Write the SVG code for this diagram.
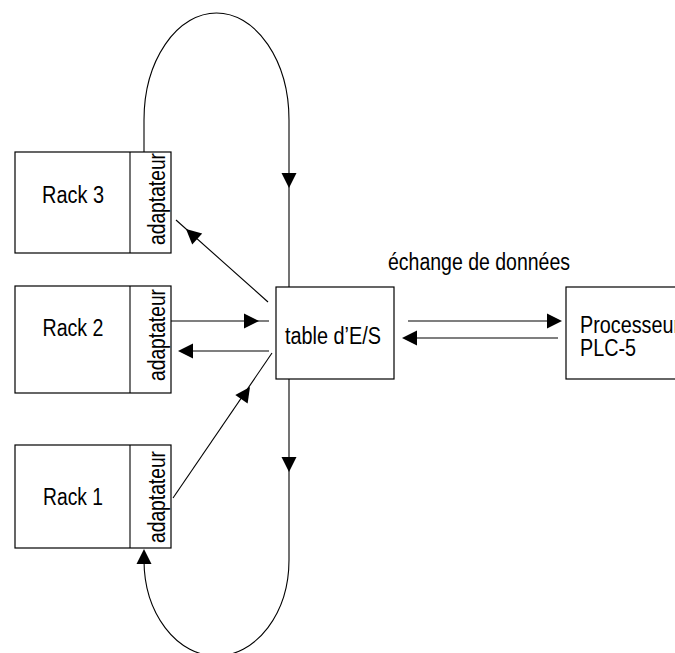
<svg xmlns="http://www.w3.org/2000/svg" xmlns:xlink="http://www.w3.org/1999/xlink" width="675" height="653" viewBox="0 0 675 653">
<style>
  .box { fill: #fff; stroke: #000; stroke-width: 1.2; }
  .ln { fill: none; stroke: #000; stroke-width: 1.1; }
  .t { font-family: "Liberation Sans", Arial, sans-serif; font-size: 23.5px; fill: #000; }
  .ah { fill: #000; }
</style>
<defs>
  <polygon id="ah" class="ah" points="0,0 -15,-7.5 -15,7.5"/>
</defs>
<rect width="675" height="653" fill="#fff"/>

<g id="connectors">
  <path class="ln" d="M144,152 V120 A72.5,107 0 0 1 289,120 V287"/>
  <path class="ln" d="M289,379 V560 A72.5,96 0 0 1 144,560 V552"/>
  <line class="ln" x1="268" y1="302" x2="176" y2="220"/>
  <line class="ln" x1="171" y1="321" x2="269" y2="321"/>
  <line class="ln" x1="269" y1="351" x2="180" y2="351"/>
  <line class="ln" x1="173" y1="498" x2="272" y2="353"/>
  <line class="ln" x1="408" y1="321" x2="560" y2="321"/>
  <line class="ln" x1="558" y1="338" x2="404" y2="338"/>
  <use xlink:href="#ah" transform="translate(289,188) rotate(90)"/>
  <use xlink:href="#ah" transform="translate(186,229) rotate(221.7)"/>
  <use xlink:href="#ah" transform="translate(259,321)"/>
  <use xlink:href="#ah" transform="translate(178,351) rotate(180)"/>
  <use xlink:href="#ah" transform="translate(250,387) rotate(-55.3)"/>
  <use xlink:href="#ah" transform="translate(289,472) rotate(90)"/>
  <use xlink:href="#ah" transform="translate(144,549) rotate(-90)"/>
  <use xlink:href="#ah" transform="translate(562,321)"/>
  <use xlink:href="#ah" transform="translate(402,338) rotate(180)"/>
</g>

<g id="rack3">
  <rect class="box" x="15" y="152" width="156" height="101"/>
  <line class="ln" x1="130" y1="152" x2="130" y2="253"/>
  <text class="t" x="73" y="203" text-anchor="middle" textLength="62" lengthAdjust="spacingAndGlyphs">Rack 3</text>
  <text class="t" transform="translate(165,199) rotate(-90)" text-anchor="middle" textLength="92" lengthAdjust="spacingAndGlyphs">adaptateur</text>
</g>

<g id="rack2">
  <rect class="box" x="15" y="286" width="156" height="107"/>
  <line class="ln" x1="130" y1="286" x2="130" y2="393"/>
  <text class="t" x="73" y="336" text-anchor="middle" textLength="61" lengthAdjust="spacingAndGlyphs">Rack 2</text>
  <text class="t" transform="translate(165,335) rotate(-90)" text-anchor="middle" textLength="92" lengthAdjust="spacingAndGlyphs">adaptateur</text>
</g>

<g id="rack1">
  <rect class="box" x="15" y="445" width="156" height="103"/>
  <line class="ln" x1="130" y1="445" x2="130" y2="548"/>
  <text class="t" x="73" y="505" text-anchor="middle" textLength="60" lengthAdjust="spacingAndGlyphs">Rack 1</text>
  <text class="t" transform="translate(165,497) rotate(-90)" text-anchor="middle" textLength="92" lengthAdjust="spacingAndGlyphs">adaptateur</text>
</g>

<g id="table">
  <rect class="box" x="276" y="287" width="118" height="92"/>
  <text class="t" x="285" y="344" textLength="96" lengthAdjust="spacingAndGlyphs">table d’E/S</text>
</g>

<g id="processeur">
  <rect class="box" x="566" y="287" width="130" height="92"/>
  <text class="t" x="580" y="333" textLength="100" lengthAdjust="spacingAndGlyphs">Processeur</text>
  <text class="t" x="580" y="356" textLength="56" lengthAdjust="spacingAndGlyphs">PLC-5</text>
</g>

<g id="label-echange">
  <text class="t" x="388" y="270" textLength="182" lengthAdjust="spacingAndGlyphs">échange de données</text>
</g>
</svg>
